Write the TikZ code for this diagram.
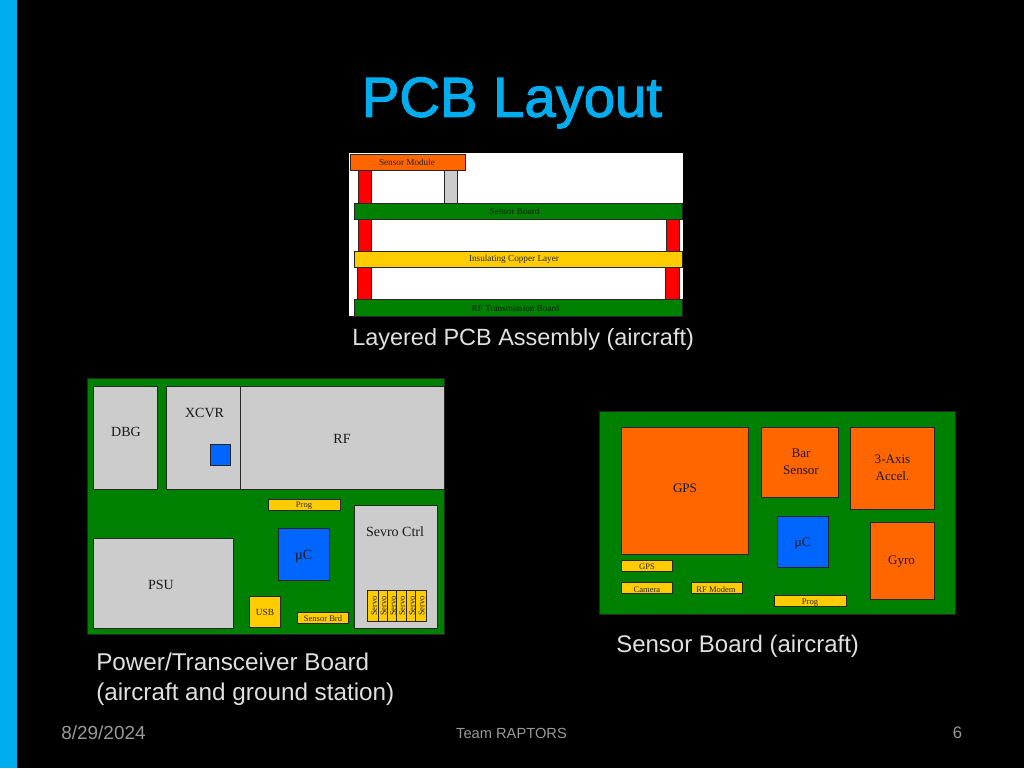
\documentclass[tikz,border=0pt]{standalone}
\usepackage{fontspec}
\setmainfont{Liberation Serif}
\newfontfamily\slidefont{Liberation Sans}
\newfontfamily\titlefont[FakeBold=2]{Liberation Sans}
\tikzset{
  x=0.75pt,y=-0.75pt,
  part/.style={draw=black!85,line width=0.75pt,inner sep=0pt,outer sep=0pt,anchor=north west},
  pcbgreen/.style={part,fill=pcbg},
  grayp/.style={part,fill=grayc},
  bluep/.style={part,fill=bluec},
  orangep/.style={part,fill=orangec},
  goldp/.style={part,fill=goldc},
  redp/.style={part,fill=redc},
  lab/.style={font=\fontsize{10.5}{12.5}\selectfont,inner sep=0pt,align=center,text=black!90},
  tiny/.style={font=\fontsize{6.4}{7.5}\selectfont,inner sep=0pt,text=black!85},
  caption/.style={font=\slidefont\fontsize{17.6}{22.5}\selectfont,inner sep=0pt,text=white!88!black,anchor=base west,align=left},
  foot/.style={font=\slidefont\fontsize{11}{14}\selectfont,inner sep=0pt,text=black!40!white,anchor=base},
}
\definecolor{pcbg}{HTML}{008000}
\definecolor{grayc}{HTML}{CCCCCC}
\definecolor{bluec}{HTML}{0066FF}
\definecolor{orangec}{HTML}{FF6600}
\definecolor{goldc}{HTML}{FFCC00}
\definecolor{redc}{HTML}{FF0000}
\definecolor{titlec}{HTML}{00ADEF}
\newcommand{\pcbbox}[6]{%
  \pgfmathsetmacro{\bw}{(#5-#3)*0.75}%
  \pgfmathsetmacro{\bh}{(#6-#4)*0.75}%
  \node[#2,minimum width=\bw pt,minimum height=\bh pt] (#1) at (#3,#4) {};}
\begin{document}
\begin{tikzpicture}
\useasboundingbox (0,0) rectangle (1024,768);
\fill[black] (0,0) rectangle (1024,768);
\fill[titlec] (0,0) rectangle (17,768);
\node[font=\titlefont\fontsize{42.2}{46}\selectfont,text=titlec,inner sep=0pt,anchor=base] (title) at (512,116.7) {PCB Layout};

% layered assembly
\fill[white] (349,153) rectangle (683,316);
\pcbbox{r1}{redp}{358}{170}{371}{203}
\pcbbox{g1}{grayp}{444.5}{170}{457.5}{203}
\pcbbox{r2}{redp}{358}{219}{371}{252}
\pcbbox{r3}{redp}{666}{219}{679}{252}
\pcbbox{r4}{redp}{357.5}{267}{371}{300}
\pcbbox{r5}{redp}{665.5}{267}{679}{300}
\pcbbox{module}{orangep}{350}{154}{465}{170}
\pcbbox{sboard}{pcbgreen}{354}{203.5}{682}{219.5}
\pcbbox{copper}{goldp}{354}{251.5}{682}{267.5}
\pcbbox{rfboard}{pcbgreen}{354}{299.5}{682}{316}
\node[tiny,font=\fontsize{6.9}{8}\selectfont] (tm) at (407,162.5) {Sensor Module};
\node[tiny,font=\fontsize{6.9}{8}\selectfont,text=black!75!pcbg] (ts) at (514.5,211.5) {Sensor Board};
\node[tiny,font=\fontsize{6.9}{8}\selectfont] (tc) at (514,259) {Insulating Copper Layer};
\node[tiny,font=\fontsize{6.9}{8}\selectfont,text=black!75!pcbg] (tr) at (515.5,308) {RF Transmission Board};
\node[caption] (c1) at (352,345.5) {Layered PCB Assembly (aircraft)};

% power / transceiver board
\pcbbox{pboard}{pcbgreen}{87.5}{378}{444}{634}
\pcbbox{dbg}{grayp}{93.3}{386.7}{157}{489}
\pcbbox{xcvr}{grayp}{166.7}{386.7}{240}{489}
\pcbbox{rf}{grayp}{240}{386.7}{444}{489}
\pcbbox{xblue}{bluep}{210}{444}{230.7}{465.7}
\pcbbox{pprog}{goldp}{268.3}{499.3}{340.3}{510.3}
\pcbbox{sevro}{grayp}{354.7}{505.7}{437.7}{628.3}
\pcbbox{psu}{grayp}{93.3}{538}{233.3}{628.3}
\pcbbox{puc}{bluep}{278.3}{528.3}{329.3}{580}
\pcbbox{usb}{goldp}{249.3}{596}{280.3}{627.3}
\pcbbox{sbrd}{goldp}{297.3}{612}{348.3}{623}
\pcbbox{sv1}{goldp}{367.3}{590.7}{378.3}{621.7}
\pcbbox{sv2}{goldp}{378.3}{590.7}{387.7}{621.7}
\pcbbox{sv3}{goldp}{387.7}{590.7}{396.7}{621.7}
\pcbbox{sv4}{goldp}{396.7}{590.7}{406}{621.7}
\pcbbox{sv5}{goldp}{406}{590.7}{415.3}{621.7}
\pcbbox{sv6}{goldp}{415.3}{590.7}{426.7}{621.7}
\node[lab] (tdbg) at (126,432) {DBG};
\node[lab] (tx) at (204.5,413) {XCVR};
\node[lab] (trf) at (342,438.5) {RF};
\node[tiny] (tp1) at (304,505.8) {Prog};
\node[lab] (tsv) at (395,532) {Sevro Ctrl};
\node[lab] (tuc) at (303.5,556) {µC};
\node[lab] (tpsu) at (161,584.5) {PSU};
\node[tiny,font=\fontsize{7}{8}\selectfont] (tusb) at (265,612) {USB};
\node[tiny] (tsb) at (323,618.5) {Sensor Brd};
\foreach \n/\xx in {1/374,2/383.5,3/393,4/402,5/412,6/421.5}
  \node[tiny,rotate=90] (tsv\n) at (\xx,606) {Servo};
\node[caption,font=\slidefont\fontsize{18.2}{22.5}\selectfont] (c2) at (96,700) {Power/Transceiver Board\\(aircraft and ground station)};

% sensor board
\pcbbox{sb}{pcbgreen}{599.3}{411.7}{955.7}{614.3}
\pcbbox{gps}{orangep}{621.3}{427}{748.7}{554.3}
\pcbbox{bar}{orangep}{761.7}{427}{838.3}{497}
\pcbbox{acc}{orangep}{850.7}{427}{934}{509.7}
\pcbbox{suc}{bluep}{777.3}{516.3}{828.7}{567.3}
\pcbbox{gyro}{orangep}{870}{522.3}{934}{599}
\pcbbox{sgps}{goldp}{621.3}{560.7}{672.3}{571.3}
\pcbbox{cam}{goldp}{621.3}{582.7}{672.3}{593.7}
\pcbbox{mod}{goldp}{691.3}{582.7}{742.7}{593.7}
\pcbbox{sprog}{goldp}{774.3}{595.7}{846.3}{606.7}
\node[lab,font=\fontsize{9.8}{12.8}\selectfont] (tg) at (685,488) {GPS};
\node[lab,font=\fontsize{9.8}{12.8}\selectfont] (tb) at (801,461.5) {Bar\\Sensor};
\node[lab,font=\fontsize{9.8}{12.8}\selectfont] (ta) at (892.5,468) {3-Axis\\Accel.};
\node[lab,font=\fontsize{9.8}{12.8}\selectfont] (tu2) at (802.5,543.5) {µC};
\node[lab,font=\fontsize{9.8}{12.8}\selectfont] (ty) at (901.5,562) {Gyro};
\node[tiny] (t1) at (647,567) {GPS};
\node[tiny] (t2) at (647,589.5) {Camera};
\node[tiny] (t3) at (716,589.5) {RF Modem};
\node[tiny] (t4) at (810,602.3) {Prog};
\node[caption,font=\slidefont\fontsize{18}{22.5}\selectfont] (c3) at (616,652.5) {Sensor Board (aircraft)};

% footer
\node[foot,font=\slidefont\fontsize{14.2}{16}\selectfont] (fd) at (103.5,739) {8/29/2024};
\node[foot] (ft) at (511.5,738.5) {Team RAPTORS};
\node[foot,font=\slidefont\fontsize{12.5}{14}\selectfont] (fn) at (957.5,738.5) {6};
\end{tikzpicture}
\end{document}
